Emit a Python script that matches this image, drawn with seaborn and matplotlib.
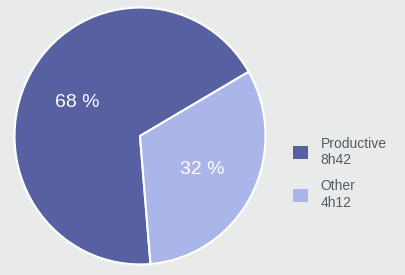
import seaborn as sns
import matplotlib.pyplot as plt
from matplotlib.patches import Patch

categories = ['Productive', 'Other']
durations = ['8h42', '4h12']
shares = [68, 32]
colors = ['#5760a0', '#aab5ea']

sns.set_theme(style='white')
plt.rcParams['font.family'] = ['Liberation Sans', 'DejaVu Sans']

fig = plt.figure(figsize=(4.06, 2.75), dpi=100)
fig.patch.set_facecolor('#e9ebeb')

ax = fig.add_axes([12 / 406, 8 / 275, 256 / 406, 262 / 275])
wedges, texts, autotexts = ax.pie(
    shares, colors=colors, startangle=30, counterclock=True,
    autopct=lambda p: f'{p:.0f} %', pctdistance=0.56,
    wedgeprops={'edgecolor': 'white', 'linewidth': 1.5},
    textprops={'color': 'white', 'fontsize': 14},
)
ax.set_aspect('auto')
ax.set_xlim(-1.02, 1.02)
ax.set_ylim(-1.02, 1.02)

handles = [Patch(facecolor=c, edgecolor='none') for c in colors]
labels = [f'{c}\n{d}' for c, d in zip(categories, durations)]
fig.legend(handles, labels, loc='center left', bbox_to_anchor=(0.69, 0.37),
           frameon=False, fontsize=10, labelcolor='#555a66',
           handlelength=1.1, handleheight=1.1, labelspacing=0.9,
           handletextpad=0.9)

fig.savefig('out.png', dpi=100, facecolor=fig.get_facecolor())
